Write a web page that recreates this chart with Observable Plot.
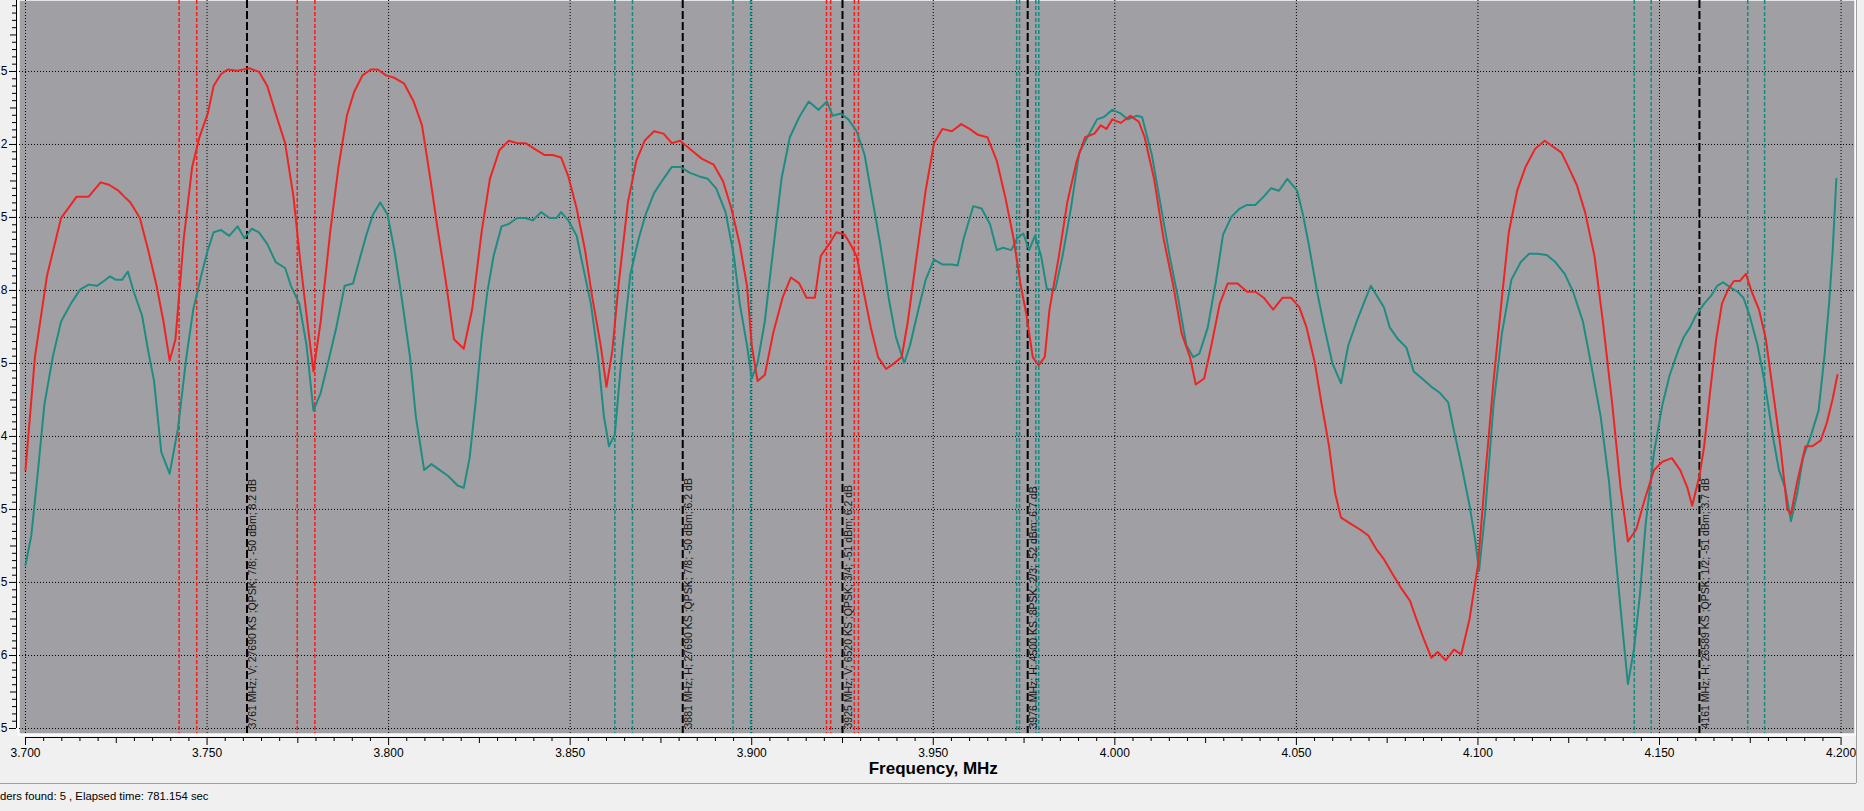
<!DOCTYPE html>
<html>
<head>
<meta charset="utf-8">
<script src="https://cdn.jsdelivr.net/npm/d3@7"></script>
<script src="https://cdn.jsdelivr.net/npm/@observablehq/plot@0.6"></script>
<style>
html, body { margin: 0; padding: 0; background: #f0f0f0; overflow: hidden; }
#chart svg { display: block; }
</style>
</head>
<body>
<div id="chart"></div>
<script>
// ---- Spectrum traces (frequency in MHz, level in dBm) ----
const redFreq = [3700, 3702.6, 3705.9, 3709.8, 3714.1, 3717.4, 3720.7, 3723.0, 3725.6, 3727.2,
  3728.9, 3731.5, 3733.8, 3736.1, 3738.0, 3739.7, 3741.3, 3743.6, 3745.9, 3747.9,
  3750.2, 3751.8, 3753.8, 3755.7, 3758.4, 3761.6, 3764.3, 3766.6, 3768.9, 3771.5,
  3773.8, 3775.7, 3778.0, 3779.3, 3781.3, 3783.9, 3786.2, 3788.5, 3790.5, 3792.8,
  3795.1, 3797.0, 3799.3, 3801.6, 3804.3, 3806.9, 3809.2, 3811.5, 3813.4, 3815.7,
  3818.0, 3820.7, 3823.0, 3825.6, 3827.9, 3830.5, 3833.1, 3835.4, 3837.7, 3840.3,
  3843.0, 3845.2, 3847.5, 3849.5, 3851.8, 3854.1, 3856.1, 3858.4, 3860.0, 3861.6,
  3863.3, 3865.9, 3868.2, 3870.5, 3873.1, 3875.7, 3878.0, 3880.3, 3883.0, 3886.2,
  3889.5, 3892.1, 3894.4, 3896.7, 3898.7, 3900.0, 3901.6, 3903.6, 3905.9, 3908.5,
  3910.8, 3913.1, 3915.1, 3917.4, 3919.0, 3921.3, 3923.3, 3925.6, 3927.2, 3928.9,
  3930.5, 3932.8, 3934.8, 3937.0, 3939.3, 3941.3, 3943.0, 3945.2, 3947.9, 3950.2,
  3952.5, 3955.1, 3957.7, 3960.0, 3962.3, 3964.9, 3967.5, 3969.8, 3972.1, 3974.1,
  3975.7, 3977.4, 3979.0, 3980.7, 3982.0, 3984.6, 3986.9, 3989.5, 3991.8, 3994.4,
  3996.1, 3997.7, 3999.3, 4001.6, 4004.3, 4006.6, 4008.2, 4010.8, 4013.4, 4016.1,
  4018.4, 4020.7, 4022.3, 4024.6, 4026.6, 4028.9, 4031.1, 4033.8, 4036.4, 4038.7,
  4041.0, 4043.6, 4046.2, 4048.5, 4050.8, 4052.8, 4055.1, 4056.7, 4059.0, 4060.7,
  4062.3, 4064.9, 4067.5, 4069.8, 4072.1, 4074.1, 4076.4, 4079.0, 4081.3, 4083.0,
  4085.2, 4087.2, 4088.9, 4091.1, 4093.4, 4095.4, 4097.7, 4100.0, 4102.0, 4104.3,
  4106.6, 4108.5, 4110.8, 4113.1, 4115.7, 4118.4, 4120.7, 4123.0, 4124.9, 4127.2,
  4129.5, 4132.1, 4134.4, 4137.0, 4139.3, 4141.3, 4143.6, 4145.9, 4148.5, 4150.8,
  4153.4, 4155.7, 4157.7, 4159.0, 4161.0, 4162.3, 4163.9, 4165.6, 4167.2, 4168.9,
  4170.5, 4172.1, 4173.8, 4175.4, 4177.4, 4179.3, 4181.3, 4183.3, 4185.2, 4186.2,
  4187.9, 4190.2, 4192.1, 4194.4, 4196.1, 4197.7, 4199.0];
const redLevel = [-69.5, -60.0, -53.2, -48.3, -46.5, -46.5, -45.3, -45.5, -46.0, -46.5,
  -47.0, -48.3, -51.0, -54.0, -57.0, -60.3, -58.5, -50.0, -44.0, -41.5,
  -39.5, -37.2, -36.2, -35.8, -35.9, -35.7, -36.0, -37.2, -39.5, -42.0,
  -46.5, -52.0, -58.0, -61.2, -57.0, -49.5, -44.0, -39.7, -37.7, -36.3,
  -35.8, -35.8, -36.3, -36.5, -37.0, -38.5, -40.5, -45.0, -49.0, -53.5,
  -58.5, -59.3, -56.0, -49.5, -45.0, -42.6, -41.8, -42.0, -42.0, -42.5,
  -43.0, -43.0, -43.2, -44.8, -47.5, -51.0, -55.0, -59.0, -62.5, -59.5,
  -54.0, -47.0, -43.5, -41.8, -41.0, -41.2, -42.0, -41.8, -42.5, -43.3,
  -43.8, -45.2, -47.5, -50.5, -54.0, -59.0, -62.0, -61.5, -58.0, -55.0,
  -53.3, -53.8, -55.0, -55.0, -51.5, -50.5, -49.5, -49.7, -50.5, -51.5,
  -54.0, -57.5, -60.0, -61.0, -60.5, -60.0, -57.0, -52.0, -46.0, -42.0,
  -40.8, -41.0, -40.4, -40.8, -41.3, -41.5, -43.5, -46.5, -50.0, -54.0,
  -56.5, -60.0, -60.7, -60.0, -56.0, -51.5, -47.0, -43.5, -41.5, -41.2,
  -40.5, -40.8, -40.0, -40.3, -39.7, -40.2, -41.5, -45.0, -50.0, -54.0,
  -58.0, -60.0, -62.3, -61.8, -59.0, -55.5, -53.8, -53.8, -54.5, -54.5,
  -55.0, -56.0, -55.0, -55.0, -55.8, -57.5, -60.5, -63.5, -67.5, -71.5,
  -73.5, -74.0, -74.5, -75.0, -76.2, -77.0, -78.2, -79.5, -80.5, -82.0,
  -83.8, -85.3, -84.8, -85.5, -84.6, -85.0, -82.0, -77.5, -70.0, -62.0,
  -55.0, -49.5, -46.0, -44.0, -42.5, -41.8, -42.3, -42.8, -44.0, -45.5,
  -47.8, -51.5, -57.0, -64.0, -71.0, -75.5, -74.5, -72.0, -69.5, -68.8,
  -68.5, -69.5, -71.0, -72.5, -70.0, -67.5, -63.0, -58.5, -55.5, -54.3,
  -53.6, -53.6, -53.0, -54.5, -56.0, -58.5, -63.0, -67.5, -72.8, -73.2,
  -70.5, -67.5, -67.5, -67.0, -65.5, -63.5, -61.5];

const tealFreq = [3700, 3701.6, 3703.3, 3705.2, 3707.5, 3709.8, 3712.5, 3715.1, 3717.4, 3719.7,
  3721.6, 3723.3, 3724.9, 3726.6, 3728.2, 3729.8, 3732.1, 3733.8, 3735.4, 3737.4,
  3739.7, 3742.0, 3744.3, 3746.2, 3748.5, 3750.2, 3751.8, 3753.8, 3756.1, 3758.4,
  3760.3, 3762.3, 3764.3, 3766.6, 3768.9, 3771.5, 3773.1, 3775.4, 3777.4, 3779.3,
  3781.3, 3783.3, 3785.6, 3787.9, 3790.2, 3791.8, 3793.8, 3795.7, 3797.7, 3799.7,
  3801.6, 3803.6, 3805.9, 3807.5, 3809.8, 3811.8, 3814.1, 3816.4, 3819.0, 3820.7,
  3822.3, 3823.9, 3825.6, 3827.2, 3828.9, 3831.1, 3833.1, 3835.4, 3837.7, 3839.7,
  3842.0, 3844.3, 3846.2, 3847.5, 3849.5, 3851.8, 3853.4, 3855.7, 3857.7, 3859.3,
  3860.7, 3862.3, 3864.3, 3866.6, 3868.9, 3870.8, 3873.1, 3875.7, 3878.0, 3880.3,
  3883.0, 3885.6, 3887.9, 3890.2, 3892.8, 3895.1, 3896.7, 3898.7, 3900.0, 3901.6,
  3903.6, 3905.9, 3908.2, 3910.5, 3913.1, 3915.7, 3918.4, 3920.7, 3922.3, 3924.6,
  3926.6, 3928.9, 3931.1, 3933.1, 3935.4, 3937.7, 3939.7, 3942.0, 3943.6, 3945.9,
  3947.9, 3950.2, 3952.5, 3955.1, 3956.7, 3958.4, 3961.0, 3963.3, 3965.6, 3967.5,
  3969.2, 3971.5, 3973.1, 3974.8, 3976.4, 3978.0, 3979.7, 3981.3, 3983.6, 3985.6,
  3987.9, 3990.2, 3992.8, 3995.1, 3997.0, 3999.3, 4001.6, 4003.6, 4005.9, 4007.5,
  4010.2, 4012.5, 4015.1, 4017.4, 4019.7, 4021.6, 4023.3, 4025.6, 4027.9, 4029.8,
  4032.1, 4034.4, 4036.4, 4038.7, 4041.0, 4043.0, 4045.2, 4047.5, 4050.2, 4051.8,
  4053.4, 4055.7, 4057.7, 4059.9, 4062.3, 4064.3, 4066.6, 4068.9, 4070.5, 4072.5,
  4074.1, 4075.7, 4078.0, 4080.3, 4082.3, 4084.6, 4087.2, 4089.5, 4091.8, 4093.4,
  4095.4, 4097.7, 4099.3, 4100.3, 4102.0, 4104.3, 4106.6, 4109.2, 4111.8, 4114.1,
  4116.4, 4118.9, 4121.3, 4123.9, 4126.2, 4128.9, 4131.1, 4133.8, 4136.1, 4138.0,
  4139.7, 4141.3, 4143.0, 4144.6, 4146.2, 4148.5, 4150.8, 4152.8, 4155.1, 4156.7,
  4158.4, 4160.0, 4162.3, 4164.3, 4165.9, 4167.5, 4169.8, 4171.5, 4173.1, 4174.8,
  4177.0, 4179.0, 4181.3, 4182.9, 4184.6, 4186.2, 4187.9, 4189.5, 4191.8, 4193.8,
  4195.4, 4196.7, 4197.7, 4198.7];
const tealLevel = [-77.5, -75.0, -70.0, -64.0, -60.0, -57.0, -55.5, -54.3, -53.9, -54.0,
  -53.6, -53.2, -53.5, -53.5, -52.8, -54.5, -56.5, -59.5, -62.0, -68.0,
  -69.8, -66.0, -60.0, -56.0, -53.0, -51.0, -49.5, -49.3, -49.8, -49.0,
  -50.0, -49.2, -49.5, -50.5, -52.0, -52.5, -54.0, -55.5, -59.0, -64.5,
  -63.0, -60.5, -57.5, -54.0, -53.8, -52.0, -49.8, -48.0, -47.0, -48.0,
  -51.0, -55.0, -60.0, -65.0, -69.5, -69.0, -69.5, -70.0, -70.8, -71.0,
  -68.5, -64.0, -58.5, -54.5, -51.5, -49.0, -48.8, -48.3, -48.3, -48.5,
  -47.8, -48.3, -48.3, -47.8, -48.5, -49.8, -52.2, -55.5, -60.0, -65.0,
  -67.5, -66.5, -59.5, -53.0, -50.0, -48.0, -46.2, -45.0, -44.0, -44.0,
  -44.5, -44.8, -45.0, -45.8, -47.8, -51.5, -55.5, -59.0, -61.8, -60.5,
  -57.0, -51.0, -45.0, -41.5, -39.8, -38.5, -39.2, -38.5, -39.7, -39.5,
  -40.0, -41.0, -43.0, -46.5, -50.5, -55.0, -58.3, -60.5, -59.0, -56.0,
  -53.5, -51.8, -52.2, -52.2, -52.3, -50.0, -47.3, -47.5, -48.8, -51.0,
  -50.8, -51.0, -50.0, -49.6, -51.0, -49.8, -51.5, -54.3, -54.3, -51.5,
  -47.5, -42.8, -41.3, -40.0, -39.8, -39.2, -39.5, -40.0, -39.7, -39.8,
  -43.0, -47.0, -51.5, -55.0, -59.0, -60.0, -59.7, -57.5, -53.5, -49.7,
  -48.2, -47.5, -47.2, -47.2, -46.5, -45.8, -46.0, -45.0, -46.0, -48.0,
  -50.5, -54.5, -57.5, -60.5, -62.2, -59.0, -57.0, -55.2, -54.0, -55.0,
  -55.8, -57.5, -58.5, -59.2, -61.2, -61.8, -62.5, -63.0, -63.8, -66.2,
  -69.0, -72.5, -75.5, -78.0, -73.0, -64.0, -58.0, -53.5, -52.0, -51.3,
  -51.3, -51.4, -52.0, -53.0, -54.5, -57.0, -60.5, -65.0, -70.5, -77.0,
  -82.5, -87.5, -84.5, -80.0, -74.0, -68.0, -64.0, -61.5, -59.5, -58.3,
  -57.5, -56.5, -55.5, -54.8, -54.0, -53.7, -54.2, -54.5, -55.0, -56.5,
  -59.0, -62.2, -66.8, -69.5, -71.0, -73.8, -71.5, -68.5, -66.5, -64.5,
  -60.0, -55.5, -51.0, -45.0];

// ---- Found transponders ----
const tpFreq  = [3761, 3881, 3925, 3976, 4161];
const tpPol   = ["V", "H", "V", "H", "H"];
const tpSR    = [27690, 27690, 6520, 4500, 26589];
const tpMod   = ["QPSK", "QPSK", "QPSK", "8PSK", "QPSK"];
const tpFEC   = ["7/8", "7/8", "3/4", "2/3", "1/2"];
const tpLevel = [-50, -50, -51, -52, -51];
const tpSNR   = ["8.2", "6.2", "6.2", "6.7", "3.7"];
const rollOff = 1.35;

// ---- Axes ----
const xMajorTicks = [3700, 3750, 3800, 3850, 3900, 3950, 4000, 4050, 4100, 4150, 4200];
const xTickLabels = ["3.700", "3.750", "3.800", "3.850", "3.900", "3.950", "4.000", "4.050", "4.100", "4.150", "4.200"];
const yTicks = [-35.97, -42.11, -48.25, -54.39, -60.53, -66.67, -72.81, -78.95, -85.10, -91.24];
const yTickLabels = ["-35.5", "-42.2", "-48.5", "-54.8", "-60.5", "-66.4", "-72.5", "-78.5", "-84.6", "-91.5"];
const xTitle = "Frequency, MHz";
const statusText = "Transponders found: 5 , Elapsed time: 781.154 sec";

// ---- Derived tables ----
const red = redFreq.map((f, i) => ({f, v: redLevel[i]}));
const teal = tealFreq.map((f, i) => ({f, v: tealLevel[i]}));
const tps = tpFreq.map((f, i) => ({
  f, pol: tpPol[i],
  label: `${f} MHz; ${tpPol[i]}; ${tpSR[i]} KS ;${tpMod[i]}; ${tpFEC[i]}; ${tpLevel[i]} dBm; ${tpSNR[i]} dB`
}));
const edges = [];
tps.forEach((t, i) => {
  const h = tpSR[i] / 2000, w = tpSR[i] * rollOff / 2000;
  [t.f - w, t.f - h, t.f + h, t.f + w].forEach(e => edges.push({f: e, pol: t.pol}));
});
const xMinor = d3.range(3700, 4200.1, 5).filter(v => v % 25 !== 0);
const xMedium = d3.range(3725, 4200, 50);
const yStep = (yTicks[0] - yTicks[9]) / 90;
const yMinor = d3.range(-9, 91).map(k => ({v: yTicks[0] - k * yStep, k})).filter(d => d.k % 10 !== 0);

const XDOM = [3698.35, 4203.7];
const YDOM = [-91.66, -30];

const chart = Plot.plot({
  width: 1864, height: 811,
  marginLeft: 19, marginRight: 10, marginTop: 0, marginBottom: 78,
  x: {domain: XDOM, axis: null},
  y: {domain: YDOM, axis: null},
  style: {background: "transparent", fontFamily: "'Liberation Sans', Arial, sans-serif", color: "#000"},
  marks: [
    Plot.frame({fill: "#a0a0a4"}),
    Plot.frame({stroke: "#ffffff", strokeWidth: 2, inset: -1}),
    // grid
    Plot.ruleX(xMajorTicks, {stroke: "#000", strokeWidth: 1, strokeDasharray: "1,2"}),
    Plot.ruleY(yTicks, {stroke: "#000", strokeWidth: 1, strokeDasharray: "1,2"}),
    // transponder band edges
    Plot.ruleX(edges.filter(d => d.pol === "V"), {x: "f", stroke: "#ff1a1a", strokeWidth: 1.5, strokeDasharray: "4,2"}),
    Plot.ruleX(edges.filter(d => d.pol === "H"), {x: "f", stroke: "#158a80", strokeWidth: 1.5, strokeDasharray: "4,2"}),
    // transponder centres
    Plot.ruleX(tps, {x: "f", stroke: "#000", strokeWidth: 2, strokeDasharray: "8,3"}),
    // traces
    Plot.line(teal, {x: "f", y: "v", stroke: "#1f8c82", strokeWidth: 2}),
    Plot.line(red, {x: "f", y: "v", stroke: "#ee2424", strokeWidth: 2}),
    // transponder labels
    Plot.text(tps, {x: "f", text: "label", frameAnchor: "bottom", dy: -5, dx: 2, rotate: -90,
      textAnchor: "start", lineAnchor: "top", fontSize: 10.5, fill: "#141414"}),
    // y axis
    Plot.ruleX([XDOM[0]], {dx: -3, insetBottom: 5, stroke: "#000"}),
    Plot.ruleY(yTicks, {insetLeft: -10, insetRight: 1838, stroke: "#000"}),
    Plot.ruleY(yMinor.filter(d => d.k % 5 === 0), {y: "v", insetLeft: -9, insetRight: 1838, stroke: "#000"}),
    Plot.ruleY(yMinor.filter(d => d.k % 5 !== 0), {y: "v", insetLeft: -7, insetRight: 1838, stroke: "#000"}),
    Plot.text(yTicks, {y: d => d, text: (d, i) => yTickLabels[i], frameAnchor: "left", dx: -12,
      textAnchor: "end", fontSize: 12, fill: "#000"}),
    // x axis
    Plot.ruleY([YDOM[0]], {x1: 3700, x2: 4200, dy: 4, stroke: "#000"}),
    Plot.ruleX(xMajorTicks, {insetTop: 737, insetBottom: -12, stroke: "#000"}),
    Plot.ruleX(xMedium, {insetTop: 737, insetBottom: -10, stroke: "#000"}),
    Plot.ruleX(xMinor, {insetTop: 737, insetBottom: -8, stroke: "#000"}),
    Plot.text(xMajorTicks, {x: d => d, text: (d, i) => xTickLabels[i], frameAnchor: "bottom", dy: 23,
      fontSize: 12, fill: "#000"}),
    Plot.text([xTitle], {x: 3950, frameAnchor: "bottom", dy: 40, fontSize: 17, fontWeight: "bold", fill: "#000"}),
    // panel border + status bar
    Plot.ruleY([YDOM[0]], {dy: 50, insetLeft: -19, insetRight: -2, stroke: "#a0a0a0"}),
    Plot.ruleX([XDOM[1]], {dx: 2, insetBottom: -50, stroke: "#a0a0a0"}),
    Plot.text([statusText], {frameAnchor: "bottom-left", dx: 189, dy: 66, textAnchor: "end",
      fontSize: 11.3, fill: "#000"})
  ]
});
document.getElementById("chart").append(chart);
</script>
</body>
</html>
